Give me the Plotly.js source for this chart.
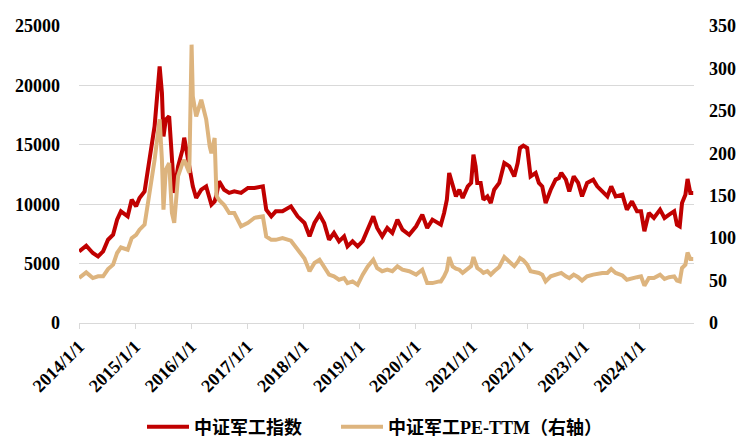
<!DOCTYPE html>
<html>
<head>
<meta charset="utf-8">
<script src="https://cdn.plot.ly/plotly-3.0.1.min.js"></script>
<style>html,body{margin:0;padding:0;background:#fff;}#chart{width:740px;height:437px;}</style>
</head>
<body>
<div id="chart"></div>
<script>
const dates = [
"2014-01-02","2014-02-17","2014-04-01","2014-05-05","2014-06-07","2014-07-09","2014-08-11","2014-09-06","2014-10-01","2014-11-14",
"2014-12-10","2015-01-08","2015-01-30","2015-03-04","2015-03-29","2015-04-20","2015-05-08","2015-06-10","2015-06-25","2015-07-05",
"2015-07-20","2015-08-11","2015-08-29","2015-09-13","2015-10-08","2015-11-06","2015-11-17","2015-12-20","2016-01-04","2016-01-12",
"2016-02-03","2016-03-07","2016-04-08","2016-05-01","2016-05-12","2016-06-02","2016-06-14","2016-07-01","2016-08-03","2016-09-05",
"2016-10-08","2016-11-21","2017-01-05","2017-02-17","2017-04-12","2017-05-04","2017-06-06","2017-07-05","2017-08-18","2017-10-12",
"2017-11-24","2018-01-08","2018-02-10","2018-03-14","2018-04-16","2018-05-16","2018-06-17","2018-07-19","2018-08-21","2018-09-23",
"2018-10-15","2018-11-17","2018-12-20","2019-01-22","2019-02-24","2019-04-01","2019-04-26","2019-05-29","2019-07-01","2019-08-03",
"2019-09-05","2019-10-08","2019-11-21","2020-01-05","2020-02-14","2020-03-17","2020-04-20","2020-06-03","2020-06-14","2020-07-05",
"2020-07-23","2020-08-07","2020-08-29","2020-09-20","2020-10-12","2020-11-03","2020-12-06","2020-12-28","2021-01-12","2021-01-26",
"2021-02-06","2021-02-28","2021-03-18","2021-04-13","2021-05-05","2021-05-27","2021-06-29","2021-08-01","2021-09-03","2021-10-05",
"2021-10-27","2021-11-11","2021-12-03","2021-12-28","2022-01-19","2022-02-21","2022-03-14","2022-04-05","2022-04-27","2022-05-30",
"2022-07-01","2022-07-23","2022-08-07","2022-09-06","2022-09-28","2022-10-27","2022-11-25","2022-12-20","2023-01-22","2023-03-03",
"2023-03-29","2023-05-01","2023-06-03","2023-06-28","2023-07-27","2023-09-09","2023-10-08","2023-11-10","2023-12-13","2024-01-08",
"2024-01-30","2024-02-28","2024-04-01","2024-05-11","2024-06-09","2024-07-09","2024-08-11","2024-08-29","2024-09-16","2024-10-01",
"2024-10-23","2024-11-06","2024-11-24","2024-12-13"
];
const indexValues = [
6030,6510,5890,5610,6030,7010,7430,8700,9400,8980,
10380,9820,10520,11080,13190,14870,16550,21600,19370,15710,
17120,17400,14310,10950,13190,14590,15600,13190,12300,11500,
10520,11220,11500,10500,9960,10240,10800,11920,11220,10950,
11080,10950,11370,11370,11500,9540,8980,9400,9400,9820,
8980,8420,7290,8420,9120,8420,7010,7580,6870,7290,
6450,6870,6450,6900,7860,8980,8000,7290,8000,7580,
8700,7860,7430,8140,9120,8000,8700,8420,8280,9260,
10380,12630,11500,10660,11220,10520,11500,11790,14170,13190,
11790,11790,10380,10660,10100,11220,11790,13470,13190,12340,
13470,14730,14930,14730,12340,12630,11790,11500,10100,11220,
12070,12210,12630,12070,11080,12340,11790,10660,11790,12070,
11500,11080,10660,11500,10660,10800,9540,10240,9400,9400,
7720,9260,8840,9540,8840,9120,9400,8280,8140,10100,
10800,12120,10950,10950
];
const peValues = [
53,59.6,53,55,55,63.6,68.7,82.5,89,86.4,
100,104,110,116,145,169,192,240,192,133.5,
180.7,188.5,129.6,118,173,188.5,192,177,328,267,
243.5,263,240,208,200,218,150,145,139,129.6,
129.6,114,118,124,125.6,102,98,98,100,97,
87,76,61,70.7,74.6,66.7,57,55,51,53,
47,49,45,57,66.7,74.6,64.8,61,62.8,61,
66.7,62.8,61,57,62.8,47,47,49,49,55,
62,77.7,66.7,64,62.8,59,63,67,77.7,72,
64.8,62,59,61,57,61,66,77.7,72.6,67,
72,76.6,74,68.7,61,60,59,57,49,55,
57,59,59,55,53,57,54,50,55,57,
58,59,59,63.6,59,56,51,53,54,55,
44,53,53,57,52,54,55,50,49,64.8,
68.7,83,75.4,75.4
];
const seriesNames = ["中证军工指数", "中证军工PE-TTM（右轴）"];
const leftTicks = [0, 5000, 10000, 15000, 20000, 25000];
const rightTicks = [0, 50, 100, 150, 200, 250, 300, 350];

const FONT = "'Liberation Serif', 'Times New Roman', 'Noto Sans CJK SC', serif";
const tickFont = {family: FONT, size: 18, color: '#000', weight: 'bold'};
const legFont = {family: FONT, size: 18, color: '#000', weight: 'bold'};

const traces = [
  {x: dates, y: indexValues, name: seriesNames[0], type: 'scatter', mode: 'lines',
   line: {color: '#C00000', width: 4}, yaxis: 'y', legend: 'legend'},
  {x: dates, y: peValues, name: seriesNames[1], type: 'scatter', mode: 'lines',
   line: {color: '#DDB47E', width: 4}, yaxis: 'y2', legend: 'legend2'}
];

const layout = {
  width: 740, height: 437,
  margin: {l: 79, r: 46, t: 26, b: 114, autoexpand: false},
  paper_bgcolor: '#fff', plot_bgcolor: '#fff',
  showlegend: true,
  legend: {orientation: 'h', xref: 'container', yref: 'container', x: 142/740, xanchor: 'left',
           y: 10/437, yanchor: 'middle', font: legFont, itemwidth: 42, bgcolor: 'rgba(0,0,0,0)'},
  legend2: {orientation: 'h', xref: 'container', yref: 'container', x: 336/740, xanchor: 'left',
           y: 10/437, yanchor: 'middle', font: legFont, itemwidth: 42, bgcolor: 'rgba(0,0,0,0)'},
  xaxis: {type: 'date', range: ['2014-01-01', '2024-12-18'],
          tick0: '2014-01-01', dtick: 'M12', tickformat: '%Y/%-m/%-d',
          tickangle: -45, tickfont: {family: FONT, size: 18, color: '#000', weight: 'bold'},
          showgrid: false, showline: true, linecolor: '#D9D9D9', linewidth: 1,
          ticks: 'outside', ticklen: 5, tickcolor: '#D9D9D9', zeroline: false,
          automargin: false, fixedrange: true},
  yaxis: {range: [0, 25000], tickvals: leftTicks, ticktext: leftTicks.map(String),
          tickfont: tickFont, showgrid: true, gridcolor: '#D9D9D9', gridwidth: 1,
          zeroline: false, showline: false, ticks: '', ticklabelstandoff: 18, automargin: false},
  yaxis2: {range: [0, 350], tickvals: rightTicks, ticktext: rightTicks.map(String),
           overlaying: 'y', side: 'right', tickfont: tickFont, showgrid: false,
           zeroline: false, showline: false, ticks: '', ticklabelstandoff: 14, automargin: false}
};

Plotly.newPlot('chart', traces, layout, {displayModeBar: false, staticPlot: true});
</script>
</body>
</html>
